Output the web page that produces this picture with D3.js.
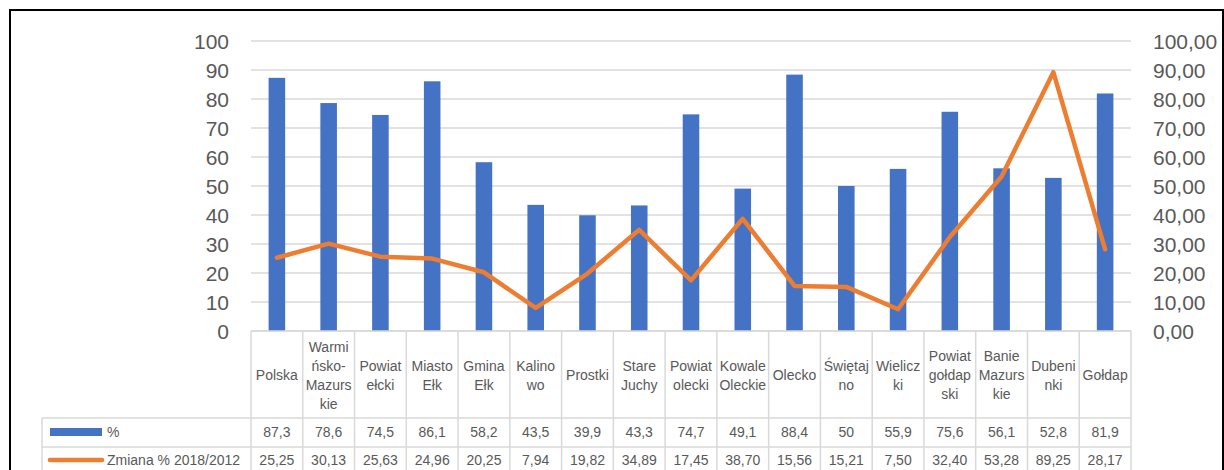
<!DOCTYPE html>
<html>
<head>
<meta charset="utf-8">
<script src="https://cdn.jsdelivr.net/npm/d3@7"></script>
<style>
  body { margin: 0; background: #fff; }
  svg text { font-family: "Liberation Sans", Arial, sans-serif; fill: #595959; }
</style>
</head>
<body>
<svg id="visualization" width="1224" height="470"></svg>
<script>
// data
var categories = ["Polska", "Warmińsko-Mazurskie", "Powiat ełcki", "Miasto Ełk", "Gmina Ełk", "Kalinowo",
  "Prostki", "Stare Juchy", "Powiat olecki", "Kowale Oleckie", "Olecko", "Świętajno", "Wieliczki",
  "Powiat gołdapski", "Banie Mazurskie", "Dubeninki", "Gołdap"];
// how the labels wrap in the table cells
var tickLabels = [["Polska"], ["Warmi", "ńsko-", "Mazurs", "kie"], ["Powiat", "ełcki"], ["Miasto", "Ełk"],
  ["Gmina", "Ełk"], ["Kalino", "wo"], ["Prostki"], ["Stare", "Juchy"], ["Powiat", "olecki"],
  ["Kowale", "Oleckie"], ["Olecko"], ["Świętaj", "no"], ["Wielicz", "ki"], ["Powiat", "gołdap", "ski"],
  ["Banie", "Mazurs", "kie"], ["Dubeni", "nki"], ["Gołdap"]];
var percent = [87.3, 78.6, 74.5, 86.1, 58.2, 43.5, 39.9, 43.3, 74.7, 49.1, 88.4, 50, 55.9, 75.6, 56.1, 52.8, 81.9];
var change = [25.25, 30.13, 25.63, 24.96, 20.25, 7.94, 19.82, 34.89, 17.45, 38.70, 15.56, 15.21, 7.50, 32.40, 53.28, 89.25, 28.17];
var seriesNames = ["%", "Zmiana % 2018/2012"];
var leftTicks = [0, 10, 20, 30, 40, 50, 60, 70, 80, 90, 100];

var vis = d3.select("#visualization");
var BLUE = "#4472C4", ORANGE = "#ED7D31", GRID = "#d9d9d9";

var PLOT = { left: 251, right: 1131, top: 41, bottom: 331 };
var tableLeft = 42;
var rowCat = 418, row1 = 447, row2 = 476;

var x = d3.scaleBand().domain(categories).range([PLOT.left, PLOT.right]);
var yL = d3.scaleLinear().domain([0, 100]).range([PLOT.bottom, PLOT.top]);
var yR = d3.scaleLinear().domain([0, 100]).range([PLOT.bottom, PLOT.top]);

// chart frame
vis.append("rect")
  .attr("x", 10).attr("y", 10).attr("width", 1213).attr("height", 500)
  .attr("fill", "none").attr("stroke", "#000").attr("stroke-width", 2);

// gridlines
vis.append("g").selectAll("line").data(leftTicks).join("line")
  .attr("x1", PLOT.left).attr("x2", PLOT.right)
  .attr("y1", d => yL(d)).attr("y2", d => yL(d))
  .attr("stroke", GRID).attr("stroke-width", 1.5);

// axes
var ax = vis.append("g").attr("transform", "translate(" + PLOT.left + ",0)")
  .call(d3.axisLeft(yL).tickValues(leftTicks).tickSize(0).tickPadding(22));
ax.select(".domain").remove();
ax.selectAll("text").style("font-size", "21px").attr("dy", "0.35em");

var comma = d => d3.format(".2f")(d).replace(".", ",");
var axr = vis.append("g").attr("transform", "translate(" + PLOT.right + ",0)")
  .call(d3.axisRight(yR).tickValues(leftTicks).tickSize(0).tickPadding(22).tickFormat(comma));
axr.select(".domain").remove();
axr.selectAll("text").style("font-size", "21px").attr("dy", "0.35em");

// bars
var bw = x.bandwidth() * 0.32;
vis.append("g").selectAll("rect").data(percent).join("rect")
  .attr("x", (d, i) => x(categories[i]) + x.bandwidth() / 2 - bw / 2)
  .attr("width", bw)
  .attr("y", d => yL(d))
  .attr("height", d => yL(0) - yL(d))
  .attr("fill", BLUE);

// line
var line = d3.line()
  .x((d, i) => x(categories[i]) + x.bandwidth() / 2)
  .y(d => yR(d));
vis.append("path").datum(change)
  .attr("d", line)
  .attr("fill", "none").attr("stroke", ORANGE).attr("stroke-width", 4.5)
  .attr("stroke-linejoin", "round").attr("stroke-linecap", "round");

// data table
var tbl = vis.append("g").attr("stroke", GRID).attr("stroke-width", 1.5);
tbl.append("line").attr("x1", PLOT.left).attr("x2", PLOT.right).attr("y1", PLOT.bottom).attr("y2", PLOT.bottom);
[rowCat, row1].forEach(yy => {
  tbl.append("line").attr("x1", tableLeft).attr("x2", PLOT.right).attr("y1", yy).attr("y2", yy);
});
tbl.append("line").attr("x1", tableLeft).attr("x2", tableLeft).attr("y1", rowCat).attr("y2", row2);
categories.forEach(c => {
  tbl.append("line").attr("x1", x(c)).attr("x2", x(c)).attr("y1", PLOT.bottom).attr("y2", row2);
});
tbl.append("line").attr("x1", PLOT.right).attr("x2", PLOT.right).attr("y1", PLOT.bottom).attr("y2", row2);

// category labels
tickLabels.forEach((lines, i) => {
  var cx = x(categories[i]) + x.bandwidth() / 2;
  var cy = (PLOT.bottom + rowCat) / 2 + 1;
  var t = vis.append("text").attr("text-anchor", "middle").style("font-size", "14px");
  lines.forEach((l, j) => {
    t.append("tspan").attr("x", cx)
      .attr("y", cy + (j - (lines.length - 1) / 2) * 19)
      .attr("dy", "0.35em").text(l);
  });
});

// value rows
var fmt1 = d => String(d).replace(".", ",");
percent.forEach((d, i) => {
  vis.append("text").attr("text-anchor", "middle").style("font-size", "14px")
    .attr("x", x(categories[i]) + x.bandwidth() / 2).attr("y", (rowCat + row1) / 2)
    .attr("dy", "0.35em").text(fmt1(d));
});
change.forEach((d, i) => {
  vis.append("text").attr("text-anchor", "middle").style("font-size", "14px")
    .attr("x", x(categories[i]) + x.bandwidth() / 2).attr("y", (row1 + row2) / 2 - 1)
    .attr("dy", "0.35em").text(comma(d));
});

// legend keys in the table
vis.append("rect").attr("x", 50).attr("y", 428).attr("width", 52).attr("height", 8).attr("fill", BLUE);
vis.append("line").attr("x1", 50).attr("x2", 102).attr("y1", 460).attr("y2", 460)
  .attr("stroke", ORANGE).attr("stroke-width", 4.5).attr("stroke-linecap", "round");
seriesNames.forEach((n, i) => {
  vis.append("text").attr("x", 107).attr("y", i == 0 ? 432 : 460)
    .attr("dy", "0.35em").style("font-size", "14px").text(n);
});
</script>
</body>
</html>
